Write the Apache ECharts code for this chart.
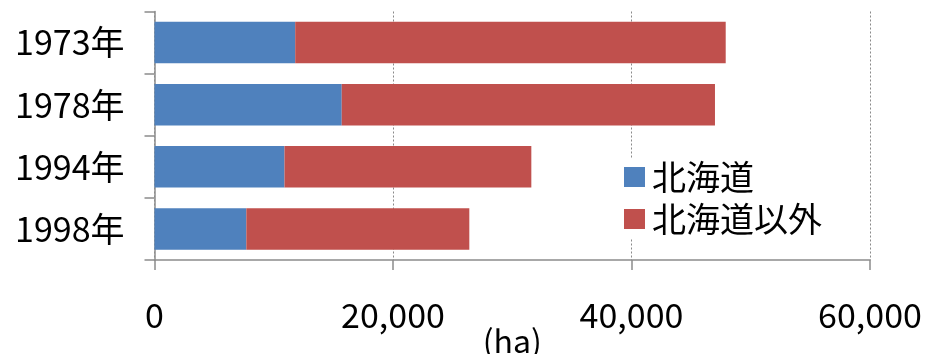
<!DOCTYPE html>
<html>
<head>
<meta charset="utf-8">
<script src="https://cdn.jsdelivr.net/npm/echarts@6/dist/echarts.min.js"></script>
<style>
html,body{margin:0;padding:0;background:#fff;}
#main{width:928px;height:354px;}
</style>
</head>
<body>
<div id="main"></div>
<script>
// 年次
var years = ['1973年', '1978年', '1994年', '1998年'];
// 北海道 (ha)
var hokkaido = [11800, 15700, 10900, 7700];
// 北海道以外 (ha)
var others = [36100, 31300, 20700, 18700];
var seriesNames = ['北海道', '北海道以外'];
var xTicks = [0, 20000, 40000, 60000];

var font = '"Noto Sans CJK JP", "Noto Sans", sans-serif';
var axisGray = '#8c8c8c';

function addComma(v){
	return String(v).replace(/\B(?=(\d{3})+(?!\d))/g, ',');
}

var myChart = echarts.init(document.getElementById('main'));
var option = {
	animation: false,
	textStyle: {fontFamily: font},
	grid: {left: 154.5, right: 58, top: 11.5, bottom: 94, containLabel: false, outerBoundsMode: 'none'},
	legend: {
		orient: 'vertical',
		left: 622,
		top: 158,
		itemWidth: 21,
		itemHeight: 20,
		itemGap: 8,
		padding: [2, 4, 2, 2],
		backgroundColor: '#fff',
		icon: 'rect',
		textStyle: {fontSize: 34, color: '#000', fontFamily: font, padding: [0, 0, 0, 2]},
		data: seriesNames
	},
	xAxis: {
		type: 'value',
		min: xTicks[0],
		max: xTicks[xTicks.length - 1],
		interval: 20000,
		name: '(ha)',
		nameLocation: 'middle',
		nameGap: 65,
		nameMoveOverlap: false,
		nameTextStyle: {fontSize: 32, color: '#000', fontFamily: font},
		axisLine: {show: true, lineStyle: {color: axisGray, width: 1.5}},
		axisTick: {show: true, length: 10, lineStyle: {color: axisGray, width: 1.5}},
		axisLabel: {
			fontSize: 34, color: '#000', margin: 38,
			formatter: function(v){ return addComma(v); }
		},
		splitLine: {show: true, lineStyle: {color: '#8a8a8a', type: [2, 2], width: 1}}
	},
	yAxis: {
		type: 'category',
		inverse: true,
		data: years,
		axisLine: {show: true, lineStyle: {color: axisGray, width: 1.5}},
		axisTick: {show: true, length: 10, lineStyle: {color: axisGray, width: 1.5}},
		axisLabel: {fontSize: 34, color: '#000', margin: 30}
	},
	series: [
		{
			name: seriesNames[0],
			type: 'bar',
			stack: 'total',
			barWidth: '67%',
			itemStyle: {color: '#4F81BD'},
			data: hokkaido
		},
		{
			name: seriesNames[1],
			type: 'bar',
			stack: 'total',
			barWidth: '67%',
			itemStyle: {color: '#C0504D'},
			data: others
		}
	]
};
myChart.setOption(option);
</script>
</body>
</html>
